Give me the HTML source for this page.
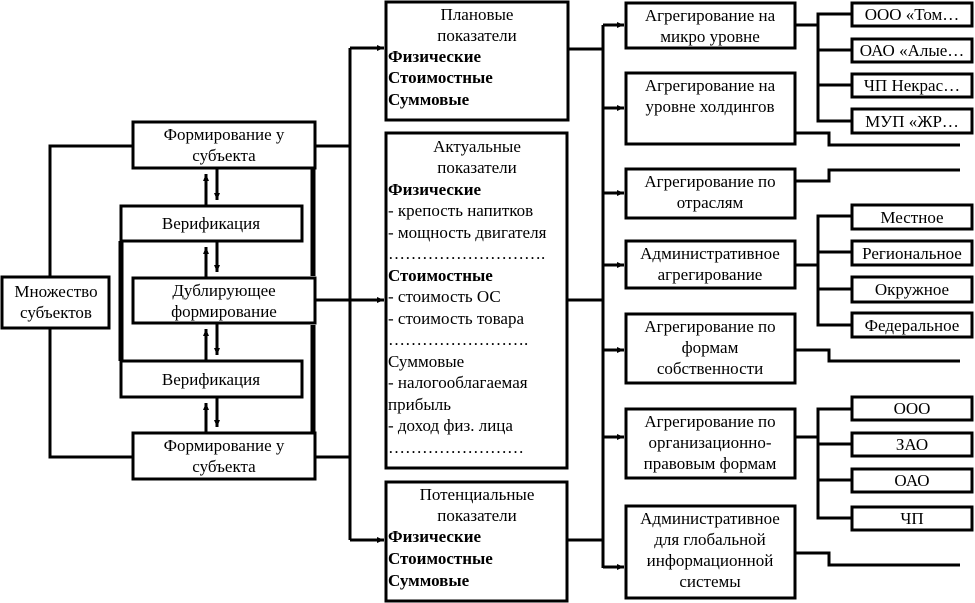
<!DOCTYPE html>
<html><head><meta charset="utf-8"><style>
html,body{margin:0;padding:0;background:#fff;}
svg{display:block;}
text{font-family:"Liberation Serif","DejaVu Serif",serif;font-size:17px;fill:#000;}
.b{font-weight:bold;}
</style></head><body>
<svg width="975" height="603" viewBox="0 0 975 603" xmlns="http://www.w3.org/2000/svg">
<defs><marker id="a" markerWidth="8" markerHeight="8" refX="7" refY="4" orient="auto" markerUnits="userSpaceOnUse"><path d="M0,1 L7,4 L0,7 Z" fill="#000"/></marker></defs>
<g fill="none" stroke="#000" stroke-width="3">
<rect x="2" y="277" width="107" height="51"/>
<rect x="133" y="122" width="182" height="46"/>
<rect x="121" y="206" width="181" height="35"/>
<rect x="133" y="278" width="182" height="45"/>
<rect x="121" y="361" width="181" height="36"/>
<rect x="133" y="433" width="182" height="46"/>
<polyline points="50,277 50,146 133,146"/>
<polyline points="50,328 50,457 133,457"/>
<line x1="313" y1="169" x2="313" y2="276" stroke-width="5"/>
<line x1="121" y1="241" x2="121" y2="361" stroke-width="5"/>
<line x1="313" y1="325" x2="313" y2="433" stroke-width="5"/>
<line x1="206" y1="206" x2="206" y2="174" marker-end="url(#a)"/>
<line x1="217" y1="168" x2="217" y2="200" marker-end="url(#a)"/>
<line x1="206" y1="278" x2="206" y2="247" marker-end="url(#a)"/>
<line x1="217" y1="241" x2="217" y2="272" marker-end="url(#a)"/>
<line x1="206" y1="361" x2="206" y2="329" marker-end="url(#a)"/>
<line x1="217" y1="323" x2="217" y2="355" marker-end="url(#a)"/>
<line x1="206" y1="433" x2="206" y2="403" marker-end="url(#a)"/>
<line x1="217" y1="397" x2="217" y2="427" marker-end="url(#a)"/>
<line x1="315" y1="146" x2="350" y2="146"/>
<line x1="315" y1="457" x2="350" y2="457"/>
<line x1="350" y1="48" x2="350" y2="540"/>
<line x1="350" y1="48" x2="384" y2="48" marker-end="url(#a)"/>
<line x1="350" y1="540" x2="384" y2="540" marker-end="url(#a)"/>
<line x1="315" y1="300" x2="384" y2="300" marker-end="url(#a)"/>
<rect x="386" y="2" width="182" height="118"/>
<rect x="386" y="133" width="181" height="335"/>
<rect x="386" y="482" width="181" height="119"/>
<line x1="568" y1="49" x2="603" y2="49"/>
<line x1="567" y1="300" x2="603" y2="300"/>
<line x1="567" y1="540" x2="603" y2="540"/>
<line x1="603" y1="25" x2="603" y2="568"/>
<line x1="603" y1="25" x2="624" y2="25" marker-end="url(#a)"/>
<line x1="603" y1="108" x2="624" y2="108" marker-end="url(#a)"/>
<line x1="603" y1="193" x2="624" y2="193" marker-end="url(#a)"/>
<line x1="603" y1="265" x2="624" y2="265" marker-end="url(#a)"/>
<line x1="603" y1="350" x2="624" y2="350" marker-end="url(#a)"/>
<line x1="603" y1="437" x2="624" y2="437" marker-end="url(#a)"/>
<line x1="603" y1="567" x2="624" y2="567" marker-end="url(#a)"/>
<rect x="626" y="3" width="169" height="45"/>
<rect x="626" y="73" width="169" height="71"/>
<rect x="626" y="169" width="169" height="49"/>
<rect x="626" y="241" width="169" height="47"/>
<rect x="626" y="314" width="169" height="69"/>
<rect x="626" y="409" width="169" height="69"/>
<rect x="626" y="506" width="169" height="92"/>
<rect x="852" y="3" width="120" height="23"/>
<rect x="852" y="39" width="120" height="23"/>
<rect x="852" y="74" width="120" height="23"/>
<rect x="852" y="109" width="120" height="24"/>
<rect x="852" y="205" width="120" height="24"/>
<rect x="852" y="241" width="120" height="24"/>
<rect x="852" y="277" width="120" height="25"/>
<rect x="852" y="313" width="120" height="24"/>
<rect x="852" y="397" width="120" height="23"/>
<rect x="852" y="433" width="120" height="23"/>
<rect x="852" y="469" width="120" height="23"/>
<rect x="852" y="507" width="120" height="23"/>
<line x1="795" y1="25" x2="818" y2="25"/>
<polyline points="852,14 818,14 818,121 852,121"/>
<line x1="818" y1="50" x2="852" y2="50"/>
<line x1="818" y1="85" x2="852" y2="85"/>
<line x1="795" y1="265" x2="818" y2="265"/>
<polyline points="852,216 818,216 818,325 852,325"/>
<line x1="818" y1="252" x2="852" y2="252"/>
<line x1="818" y1="289" x2="852" y2="289"/>
<line x1="795" y1="437" x2="818" y2="437"/>
<polyline points="852,409 818,409 818,518 852,518"/>
<line x1="818" y1="444" x2="852" y2="444"/>
<line x1="818" y1="480" x2="852" y2="480"/>
<polyline points="795,133 829,133 829,145 960,145"/>
<polyline points="795,181 829,181 829,170 960,170"/>
<polyline points="795,350 829,350 829,361 960,361"/>
<polyline points="795,553 829,553 829,565 960,565"/>
</g>
<g text-anchor="middle">
<text x="56" y="297">Множество</text><text x="56" y="318">субъектов</text>
<text x="224" y="140">Формирование у</text><text x="224" y="161">субъекта</text>
<text x="211" y="229">Верификация</text>
<text x="224" y="296">Дублирующее</text><text x="224" y="317">формирование</text>
<text x="211" y="385">Верификация</text>
<text x="224" y="451">Формирование у</text><text x="224" y="472">субъекта</text>
<text x="477" y="20">Плановые</text><text x="477" y="41">показатели</text>
<text x="477" y="152">Актуальные</text><text x="477" y="173">показатели</text>
<text x="477" y="500">Потенциальные</text><text x="477" y="521">показатели</text>
<text x="710" y="21">Агрегирование на</text><text x="710" y="42">микро уровне</text>
<text x="710" y="91">Агрегирование на</text><text x="710" y="112">уровне холдингов</text>
<text x="710" y="187">Агрегирование по</text><text x="710" y="208">отраслям</text>
<text x="710" y="259">Административное</text><text x="710" y="280">агрегирование</text>
<text x="710" y="332">Агрегирование по</text><text x="710" y="353">формам</text><text x="710" y="374">собственности</text>
<text x="710" y="427">Агрегирование по</text><text x="710" y="448">организационно-</text><text x="710" y="469">правовым формам</text>
<text x="710" y="524">Административное</text><text x="710" y="545">для глобальной</text><text x="710" y="566">информационной</text><text x="710" y="587">системы</text>
<text x="912" y="20">ООО «Том…</text>
<text x="912" y="56">ОАО «Алые…</text>
<text x="912" y="91">ЧП Некрас…</text>
<text x="912" y="127">МУП «ЖР…</text>
<text x="912" y="223">Местное</text>
<text x="912" y="259">Региональное</text>
<text x="912" y="295">Окружное</text>
<text x="912" y="331">Федеральное</text>
<text x="912" y="414">ООО</text>
<text x="912" y="450">ЗАО</text>
<text x="912" y="486">ОАО</text>
<text x="912" y="524">ЧП</text>
</g>
<g>
<text class="b" x="388" y="62">Физические</text>
<text class="b" x="388" y="83">Стоимостные</text>
<text class="b" x="388" y="105">Суммовые</text>
<text class="b" x="388" y="195">Физические</text>
<text x="388" y="216">- крепость напитков</text>
<text x="388" y="238">- мощность двигателя</text>
<text x="388" y="259">……………………….</text>
<text class="b" x="388" y="281">Стоимостные</text>
<text x="388" y="302">- стоимость ОС</text>
<text x="388" y="324">- стоимость товара</text>
<text x="388" y="345">…………………….</text>
<text x="388" y="367">Суммовые</text>
<text x="388" y="388">- налогооблагаемая</text>
<text x="388" y="410">прибыль</text>
<text x="388" y="431">- доход физ. лица</text>
<text x="388" y="453">……………………</text>
<text class="b" x="388" y="542">Физические</text>
<text class="b" x="388" y="564">Стоимостные</text>
<text class="b" x="388" y="586">Суммовые</text>
</g>
</svg>
</body></html>
